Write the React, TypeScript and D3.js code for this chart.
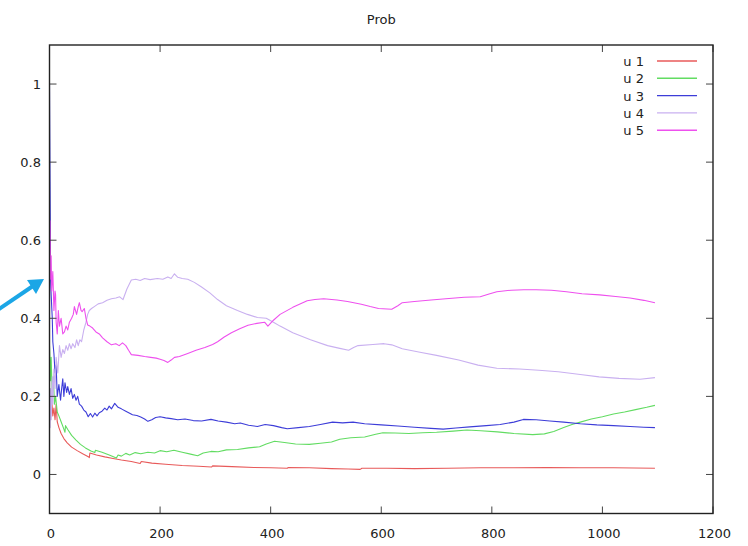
import * as d3 from "d3";

// u 1 .. u 5 : [step, prob]
const u1: [number, number][] = [
  [0, 0.2], [2, 0.17], [4, 0.19], [6, 0.15], [8, 0.17], [10, 0.14], [12, 0.18], [14, 0.135],
  [17, 0.12], [21, 0.105], [26, 0.092], [32, 0.081], [40, 0.07], [50, 0.061], [60, 0.053],
  [71, 0.045], [72, 0.043], [73, 0.055], [85, 0.05], [100, 0.045], [115, 0.041], [130, 0.037],
  [148, 0.033], [164, 0.028], [166, 0.033], [185, 0.029], [210, 0.026], [240, 0.023],
  [270, 0.021], [293, 0.019], [295, 0.022], [330, 0.02], [370, 0.018], [400, 0.017],
  [430, 0.016], [432, 0.018], [470, 0.017], [510, 0.015], [540, 0.014], [562, 0.013],
  [565, 0.016], [610, 0.016], [660, 0.015], [720, 0.016], [780, 0.017], [840, 0.017],
  [900, 0.018], [960, 0.017], [1020, 0.017], [1095, 0.016],
];

const u2: [number, number][] = [
  [0, 0.33], [2, 0.24], [3, 0.3], [5, 0.2], [7, 0.25], [9, 0.18], [11, 0.2], [14, 0.16],
  [17, 0.15], [21, 0.135], [25, 0.12], [28, 0.108], [29, 0.125], [33, 0.115], [40, 0.1],
  [48, 0.088], [56, 0.077], [65, 0.068], [75, 0.06], [82, 0.056], [83, 0.062], [95, 0.057],
  [108, 0.05], [121, 0.042], [124, 0.05], [130, 0.047], [138, 0.054], [145, 0.05], [155, 0.056],
  [165, 0.053], [178, 0.057], [190, 0.055], [200, 0.061], [212, 0.058], [225, 0.062],
  [240, 0.057], [255, 0.052], [268, 0.048], [278, 0.055], [292, 0.059], [305, 0.058],
  [320, 0.063], [340, 0.064], [360, 0.068], [380, 0.071], [392, 0.078], [407, 0.085],
  [425, 0.082], [445, 0.078], [470, 0.077], [490, 0.08], [510, 0.083], [525, 0.09],
  [545, 0.094], [570, 0.096], [590, 0.103], [603, 0.107], [625, 0.106], [650, 0.105],
  [675, 0.107], [700, 0.108], [730, 0.111], [755, 0.114], [780, 0.112], [810, 0.109],
  [840, 0.105], [874, 0.102], [895, 0.104], [912, 0.11], [930, 0.12], [945, 0.128],
  [960, 0.134], [980, 0.142], [1000, 0.148], [1020, 0.155], [1040, 0.16], [1060, 0.166],
  [1080, 0.172], [1095, 0.177],
];

const u3: [number, number][] = [
  [0, 1.0], [1, 0.75], [2, 0.5], [3, 0.46], [5, 0.4], [6, 0.34], [8, 0.31], [10, 0.26],
  [12, 0.28], [14, 0.2], [17, 0.23], [20, 0.19], [22, 0.22], [24, 0.245], [26, 0.2],
  [28, 0.235], [31, 0.21], [33, 0.225], [36, 0.205], [39, 0.22], [42, 0.195], [45, 0.205],
  [48, 0.19], [51, 0.2], [54, 0.18], [58, 0.175], [62, 0.165], [66, 0.16], [70, 0.148],
  [74, 0.156], [78, 0.147], [82, 0.157], [86, 0.15], [90, 0.158], [95, 0.162], [100, 0.17],
  [104, 0.165], [108, 0.175], [112, 0.168], [118, 0.182], [124, 0.172], [130, 0.168],
  [138, 0.162], [145, 0.157], [150, 0.153], [158, 0.151], [165, 0.147], [172, 0.142],
  [178, 0.136], [185, 0.14], [192, 0.146], [200, 0.148], [210, 0.145], [220, 0.143],
  [232, 0.14], [245, 0.142], [260, 0.138], [275, 0.137], [292, 0.141], [305, 0.137],
  [320, 0.134], [335, 0.13], [345, 0.132], [360, 0.126], [376, 0.123], [390, 0.128],
  [405, 0.125], [420, 0.12], [430, 0.117], [450, 0.12], [470, 0.123], [490, 0.128],
  [512, 0.134], [530, 0.132], [549, 0.134], [570, 0.13], [600, 0.127], [630, 0.124],
  [660, 0.121], [690, 0.118], [712, 0.116], [735, 0.119], [760, 0.122], [790, 0.125],
  [815, 0.128], [840, 0.134], [857, 0.141], [880, 0.14], [905, 0.137], [930, 0.134],
  [960, 0.13], [990, 0.127], [1020, 0.125], [1050, 0.123], [1075, 0.121], [1095, 0.12],
];

const u4: [number, number][] = [
  [0, 0.2], [1, 0.12], [2, 0.22], [3, 0.14], [5, 0.25], [6, 0.18], [8, 0.27], [10, 0.22],
  [12, 0.3], [15, 0.26], [18, 0.33], [21, 0.3], [24, 0.32], [27, 0.31], [30, 0.33],
  [33, 0.318], [36, 0.335], [39, 0.322], [42, 0.335], [46, 0.325], [49, 0.345], [52, 0.33],
  [55, 0.345], [58, 0.34], [62, 0.37], [66, 0.39], [69, 0.41], [72, 0.42], [76, 0.425],
  [81, 0.43], [88, 0.437], [96, 0.44], [104, 0.446], [112, 0.45], [120, 0.452], [127, 0.455],
  [133, 0.448], [140, 0.475], [148, 0.498], [156, 0.5], [164, 0.497], [172, 0.502],
  [182, 0.499], [195, 0.502], [205, 0.5], [214, 0.506], [220, 0.502], [226, 0.514],
  [232, 0.505], [240, 0.502], [250, 0.5], [262, 0.492], [275, 0.48], [290, 0.465],
  [304, 0.448], [320, 0.432], [340, 0.42], [358, 0.41], [376, 0.402], [392, 0.4], [405, 0.39],
  [417, 0.38], [440, 0.363], [472, 0.345], [503, 0.33], [525, 0.323], [541, 0.318],
  [550, 0.325], [558, 0.33], [585, 0.333], [605, 0.335], [619, 0.332], [638, 0.322],
  [670, 0.313], [700, 0.305], [740, 0.293], [775, 0.28], [809, 0.272], [850, 0.27],
  [885, 0.267], [920, 0.263], [960, 0.256], [994, 0.25], [1030, 0.246], [1068, 0.244],
  [1095, 0.248],
];

const u5: [number, number][] = [
  [0, 0.6], [1, 0.65], [2, 0.5], [3, 0.56], [4, 0.47], [6, 0.52], [8, 0.42], [10, 0.47],
  [11, 0.46], [12, 0.39], [14, 0.36], [16, 0.42], [18, 0.38], [21, 0.4], [24, 0.36],
  [27, 0.365], [30, 0.38], [33, 0.37], [36, 0.39], [40, 0.4], [43, 0.41], [45, 0.43],
  [49, 0.41], [52, 0.43], [54, 0.44], [57, 0.42], [59, 0.417], [63, 0.425], [66, 0.4],
  [69, 0.383], [73, 0.38], [78, 0.375], [84, 0.365], [90, 0.36], [96, 0.35], [104, 0.34],
  [112, 0.332], [120, 0.335], [126, 0.33], [132, 0.337], [138, 0.33], [143, 0.318],
  [148, 0.307], [160, 0.305], [172, 0.302], [183, 0.3], [193, 0.298], [200, 0.295],
  [207, 0.292], [214, 0.287], [220, 0.293], [226, 0.3], [235, 0.302], [250, 0.31],
  [265, 0.318], [281, 0.325], [295, 0.333], [304, 0.34], [316, 0.352], [329, 0.363],
  [344, 0.373], [359, 0.382], [375, 0.387], [389, 0.39], [395, 0.38], [405, 0.395],
  [417, 0.41], [440, 0.428], [466, 0.445], [480, 0.448], [496, 0.45], [520, 0.447],
  [539, 0.443], [564, 0.436], [580, 0.43], [595, 0.425], [619, 0.423], [630, 0.432],
  [638, 0.44], [660, 0.443], [690, 0.447], [717, 0.45], [750, 0.454], [779, 0.455],
  [795, 0.462], [809, 0.468], [835, 0.472], [858, 0.473], [880, 0.473], [908, 0.472],
  [935, 0.468], [963, 0.463], [995, 0.46], [1024, 0.456], [1050, 0.452], [1075, 0.446],
  [1095, 0.44],
];

const seriesNames = ["u 1", "u 2", "u 3", "u 4", "u 5"];
const seriesData = [u1, u2, u3, u4, u5];
const colors = ["#e85a5a", "#62dc62", "#3d3dd8", "#c9b0f0", "#ee50ee"];
const xTicks = [0, 200, 400, 600, 800, 1000, 1200];
const yTicks = [0, 0.2, 0.4, 0.6, 0.8, 1];

const W = 748;
const H = 546;
const left = 49.5, right = 713, top = 45, bottom = 513.5;
const font = "DejaVu Sans, sans-serif";
const fs = 13;

export default function App() {
  const x = d3.scaleLinear().domain([0, 1200]).range([left, right]);
  const y = d3.scaleLinear().domain([-0.1, 1.1]).range([bottom, top]);
  const line = d3
    .line<[number, number]>()
    .x((d) => x(d[0]))
    .y((d) => y(d[1]));

  const tk = 7;

  return (
    <svg
      width={W}
      height={H}
      style={{ position: "absolute", left: 0, top: 0, background: "#fff" }}
      fontFamily={font}
    >
      <defs>
        <clipPath id="plot">
          <rect x={left} y={top} width={right - left} height={bottom - top} />
        </clipPath>
      </defs>

      <text x={(left + right) / 2} y={24} textAnchor="middle" fontSize={fs} fill="#222">
        Prob
      </text>

      <g clipPath="url(#plot)">
        {seriesData.map((d, i) => (
          <path
            key={i}
            d={line(d) || ""}
            fill="none"
            stroke={colors[i]}
            strokeWidth={1.1}
            strokeLinejoin="round"
          />
        ))}
      </g>

      {/* ticks */}
      <g stroke="#444" strokeWidth={1}>
        {yTicks.map((t) => (
          <g key={"y" + t}>
            <line x1={left} x2={left + tk} y1={y(t)} y2={y(t)} />
            <line x1={right} x2={right - tk} y1={y(t)} y2={y(t)} />
          </g>
        ))}
        {xTicks.map((t) => (
          <g key={"x" + t}>
            <line x1={x(t)} x2={x(t)} y1={bottom} y2={bottom - tk} />
            <line x1={x(t)} x2={x(t)} y1={top} y2={top + tk} />
          </g>
        ))}
      </g>

      <rect
        x={left}
        y={top}
        width={right - left}
        height={bottom - top}
        fill="none"
        stroke="#222"
        strokeWidth={1.4}
      />

      {yTicks.map((t) => (
        <text key={"yl" + t} x={41} y={y(t) + 5} textAnchor="end" fontSize={fs} fill="#222">
          {d3.format("~g")(t)}
        </text>
      ))}
      {xTicks.map((t) => (
        <text key={"xl" + t} x={x(t) + 1.5} y={538} textAnchor="middle" fontSize={fs} fill="#222">
          {t}
        </text>
      ))}

      {/* legend */}
      {seriesNames.map((n, i) => (
        <g key={n} transform={`translate(0,${61 + i * 17.3})`}>
          <text x={644} y={5} textAnchor="end" fontSize={fs} fill="#222">
            {n}
          </text>
          <line x1={657} x2={697} y1={0} y2={0} stroke={colors[i]} strokeWidth={1.4} />
        </g>
      ))}

      {/* annotation arrow */}
      <line x1={-4} y1={311} x2={33} y2={286} stroke="#1ba6e6" strokeWidth={4} />
      <path d="M44,279 L27,280 L36,294 Z" fill="#1ba6e6" />
    </svg>
  );
}
